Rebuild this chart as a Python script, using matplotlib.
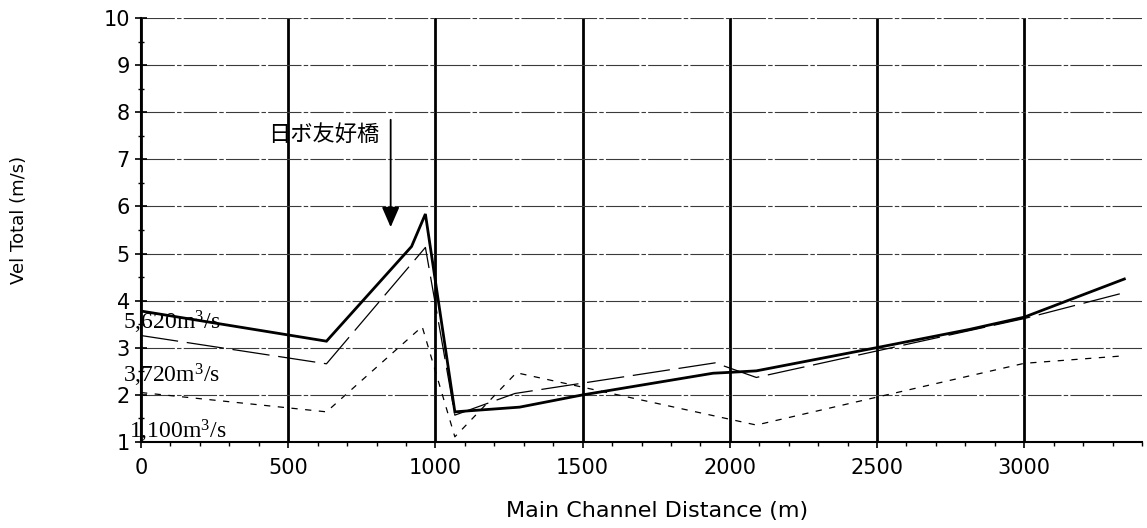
import matplotlib
matplotlib.use("Agg")
import matplotlib.pyplot as plt
from matplotlib.ticker import MultipleLocator

plt.rcParams["mathtext.fontset"] = "custom"
plt.rcParams["mathtext.rm"] = "Liberation Serif"
plt.rcParams["mathtext.it"] = "Liberation Serif:italic"
plt.rcParams["mathtext.bf"] = "Liberation Serif:bold"

# ---- data ----
x_5620 = [0, 630, 919, 966, 1066, 1286, 1500, 1943, 2005, 2090, 2505, 2814, 3000, 3340]
v_5620 = [3.78, 3.14, 5.15, 5.84, 1.64, 1.74, 2.00, 2.46, 2.48, 2.51, 3.01, 3.39, 3.65, 4.46]

x_3720 = [0, 630, 966, 1066, 1270, 1950, 2090, 3000, 3340]
v_3720 = [3.26, 2.66, 5.13, 1.57, 2.03, 2.68, 2.37, 3.62, 4.17]

x_1100 = [0, 630, 955, 1066, 1275, 2090, 2505, 3000, 3340]
v_1100 = [2.05, 1.64, 3.45, 1.11, 2.47, 1.36, 1.96, 2.67, 2.83]

series_labels = ["5,620m$^{3}$/s", "3,720m$^{3}$/s", "1,100m$^{3}$/s"]
label_x = [-61, -61, -42]
label_y = [3.38, 2.26, 1.08]

x_ticks = [0, 500, 1000, 1500, 2000, 2500, 3000]
y_ticks = [1, 2, 3, 4, 5, 6, 7, 8, 9, 10]

bridge_label = "日ボ友好橋"
bridge_text_x, bridge_text_y = 811, 7.54
bridge_x = 848
arrow_from, arrow_to = 7.84, 5.56

xlabel = "Main Channel Distance (m)"
ylabel = "Vel Total (m/s)"

# ---- figure ----
fig = plt.figure(figsize=(11.47, 5.28), dpi=100)
ax = fig.add_axes([141/1147, 86/528, (1142-141)/1147, (442-18)/528])

ax.set_xlim(0, 3400)
ax.set_ylim(1, 10)

ax.plot(x_5620, v_5620, color="black", lw=2.0, solid_joinstyle="miter", zorder=5)
ax.plot(x_3720, v_3720, color="black", lw=0.9, linestyle=(0, (30, 7)), zorder=4)
ax.plot(x_1100, v_1100, color="black", lw=0.9, linestyle=(0, (5, 6)), zorder=4)

# grid
ax.set_xticks(x_ticks)
ax.set_yticks(y_ticks)
ax.xaxis.set_minor_locator(MultipleLocator(100))
ax.yaxis.set_minor_locator(MultipleLocator(0.5))
ax.grid(axis="x", which="major", color="black", lw=2.0, zorder=1)
ax.grid(axis="y", which="major", color="#3a3a3a", lw=0.8,
        linestyle=(0, (30, 2, 4, 2)), zorder=1)
ax.set_axisbelow(True)

for s in ["top", "right"]:
    ax.spines[s].set_visible(False)
for s in ["left", "bottom"]:
    ax.spines[s].set_linewidth(1.5)
    ax.spines[s].set_color("black")

tick_font = dict(family="DejaVu Sans", size=15)
ax.set_xticklabels([str(t) for t in x_ticks], **tick_font)
ax.set_yticklabels([str(t) for t in y_ticks], **tick_font)
ax.tick_params(axis="x", which="major", direction="out", length=4.5, width=1.2, pad=7)
ax.tick_params(axis="x", which="minor", direction="out", length=3, width=1.0)
ax.tick_params(axis="y", which="major", direction="inout", length=8, width=1.2, pad=4)
ax.tick_params(axis="y", which="minor", direction="inout", length=4.5, width=1.0)

# series labels
for lab, xx, yy in zip(series_labels, label_x, label_y):
    ax.text(xx, yy, lab, family="Liberation Serif", size=17, ha="left",
            va="baseline", clip_on=False, zorder=6)

# bridge annotation
ax.text(bridge_text_x, bridge_text_y, bridge_label,
        family=["Noto Sans CJK JP", "DejaVu Sans"],
        size=16, ha="right", va="center", zorder=6)
ax.annotate("", xy=(bridge_x, arrow_to), xytext=(bridge_x, arrow_from),
            arrowprops=dict(arrowstyle="-|>,head_length=0.62,head_width=0.27",
                            color="black", lw=1.3, shrinkA=0, shrinkB=0,
                            mutation_scale=20), zorder=6)

# axis labels
fig.text(657/1147, 1 - 511/528, xlabel, family="DejaVu Sans", size=16,
         ha="center", va="center")
fig.text(19/1147, 1 - 220/528, ylabel, family="DejaVu Sans", size=13,
         ha="center", va="center", rotation=90)

fig.savefig("out.png", dpi=100)
